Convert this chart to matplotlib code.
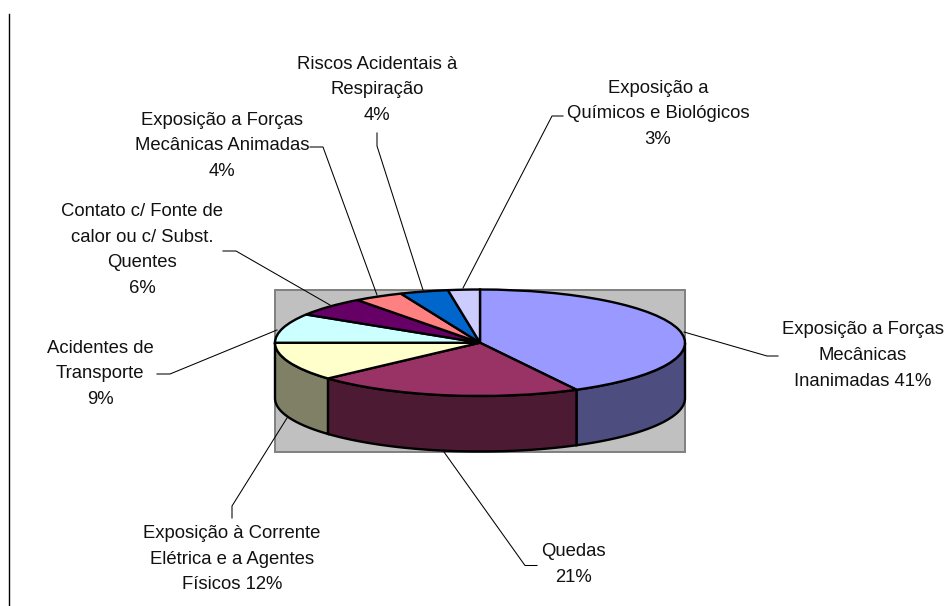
import numpy as np
import matplotlib
matplotlib.use("Agg")
import matplotlib.pyplot as plt
from matplotlib.patches import Rectangle, Polygon

# ---- data ----
labels = ["Exposição a Forças\nMecânicas\nInanimadas 41%", "Quedas\n21%",
          "Exposição à Corrente\nElétrica e a Agentes\nFísicos 12%",
          "Acidentes de\nTransporte\n9%",
          "Contato c/ Fonte de\ncalor ou c/ Subst.\nQuentes\n6%",
          "Exposição a Forças\nMecânicas Animadas\n4%",
          "Riscos Acidentais à\nRespiração\n4%",
          "Exposição a\nQuímicos e Biológicos\n3%"]
values = [42.2, 21.1, 11.7, 8.9, 5.9, 3.9, 3.8, 2.5]
top_colors = ["#9999FF", "#993366", "#FFFFCC", "#CCFFFF", "#660066", "#FF8080", "#0066CC", "#CCCCFF"]
side_colors = ["#4D4D80", "#4D1A33", "#808066", "#668080", "#330033", "#804040", "#003366", "#666680"]

# ---- layout (pixels) ----
W, H = 946, 606
label_pos = [(863, 355.5), (573, 564.5), (232, 559), (100, 374), (142, 250), (222, 146), (377, 90), (658, 114)]
leaders = [[(684, 332), (767, 356), (778, 356)],
           [(444, 452), (525, 565.5), (537, 565.5)],
           [(287, 418), (232, 506), (232, 518)],
           [(277, 330), (170, 374), (157, 374)],
           [(330, 305), (236, 251), (223, 251)],
           [(377, 295), (323, 147), (310, 147)],
           [(423, 290), (377, 146), (377, 133)],
           [(463, 288), (552, 116), (563, 116)]]
EL, ER, ET, EB = 275, 685, 289.5, 396.0
DEPTH = 55.5

plt.rcParams["font.family"] = ["Liberation Sans", "DejaVu Sans"]
fig = plt.figure(figsize=(W / 100, H / 100), dpi=100, facecolor="white")

bg = fig.add_axes([0, 0, 1, 1])
bg.set_xlim(0, W)
bg.set_ylim(H, 0)
bg.axis("off")
bg.plot([8.5, 8.5], [14, H], color="black", lw=1.0)
bg.add_patch(Rectangle((275, 289.5), 410, 162.5, facecolor="#C0C0C0", edgecolor="#808080", lw=1.4))
for pts in leaders:
    xs, ys = zip(*pts)
    bg.plot(xs, ys, color="black", lw=0.75, solid_joinstyle="miter")
for txt, (x, y) in zip(labels, label_pos):
    bg.text(x, y, txt, ha="center", va="center", fontsize=13.3, linespacing=1.68, color="#111111")

pie_ax = fig.add_axes([EL / W, (H - EB) / H, (ER - EL) / W, (EB - ET) / H])
pie_ax.pie(values, colors=top_colors, startangle=90, counterclock=False, radius=1,
           wedgeprops=dict(edgecolor="black", linewidth=1.7, zorder=5))
pie_ax.set_aspect("auto")
pie_ax.set_xlim(-1, 1)
pie_ax.set_ylim(-1, 1)
pie_ax.patch.set_alpha(0)

# side wall of the visible (front) half of the pie
d = DEPTH / ((EB - ET) / 2)
edges = np.cumsum([0] + values) / sum(values) * 360
for a0, a1, col in zip(edges[:-1], edges[1:], side_colors):
    lo, hi = max(a0, 90), min(a1, 270)
    if hi <= lo:
        continue
    t = np.radians(np.linspace(lo, hi, 80))
    xa, ya = np.sin(t), np.cos(t)
    verts = np.r_[np.c_[xa, ya], np.c_[xa, ya - d][::-1]]
    pie_ax.add_patch(Polygon(verts, closed=True, facecolor=col, edgecolor="black",
                             linewidth=1.7, clip_on=False, zorder=3))

fig.savefig("out.png", dpi=100, facecolor="white")
